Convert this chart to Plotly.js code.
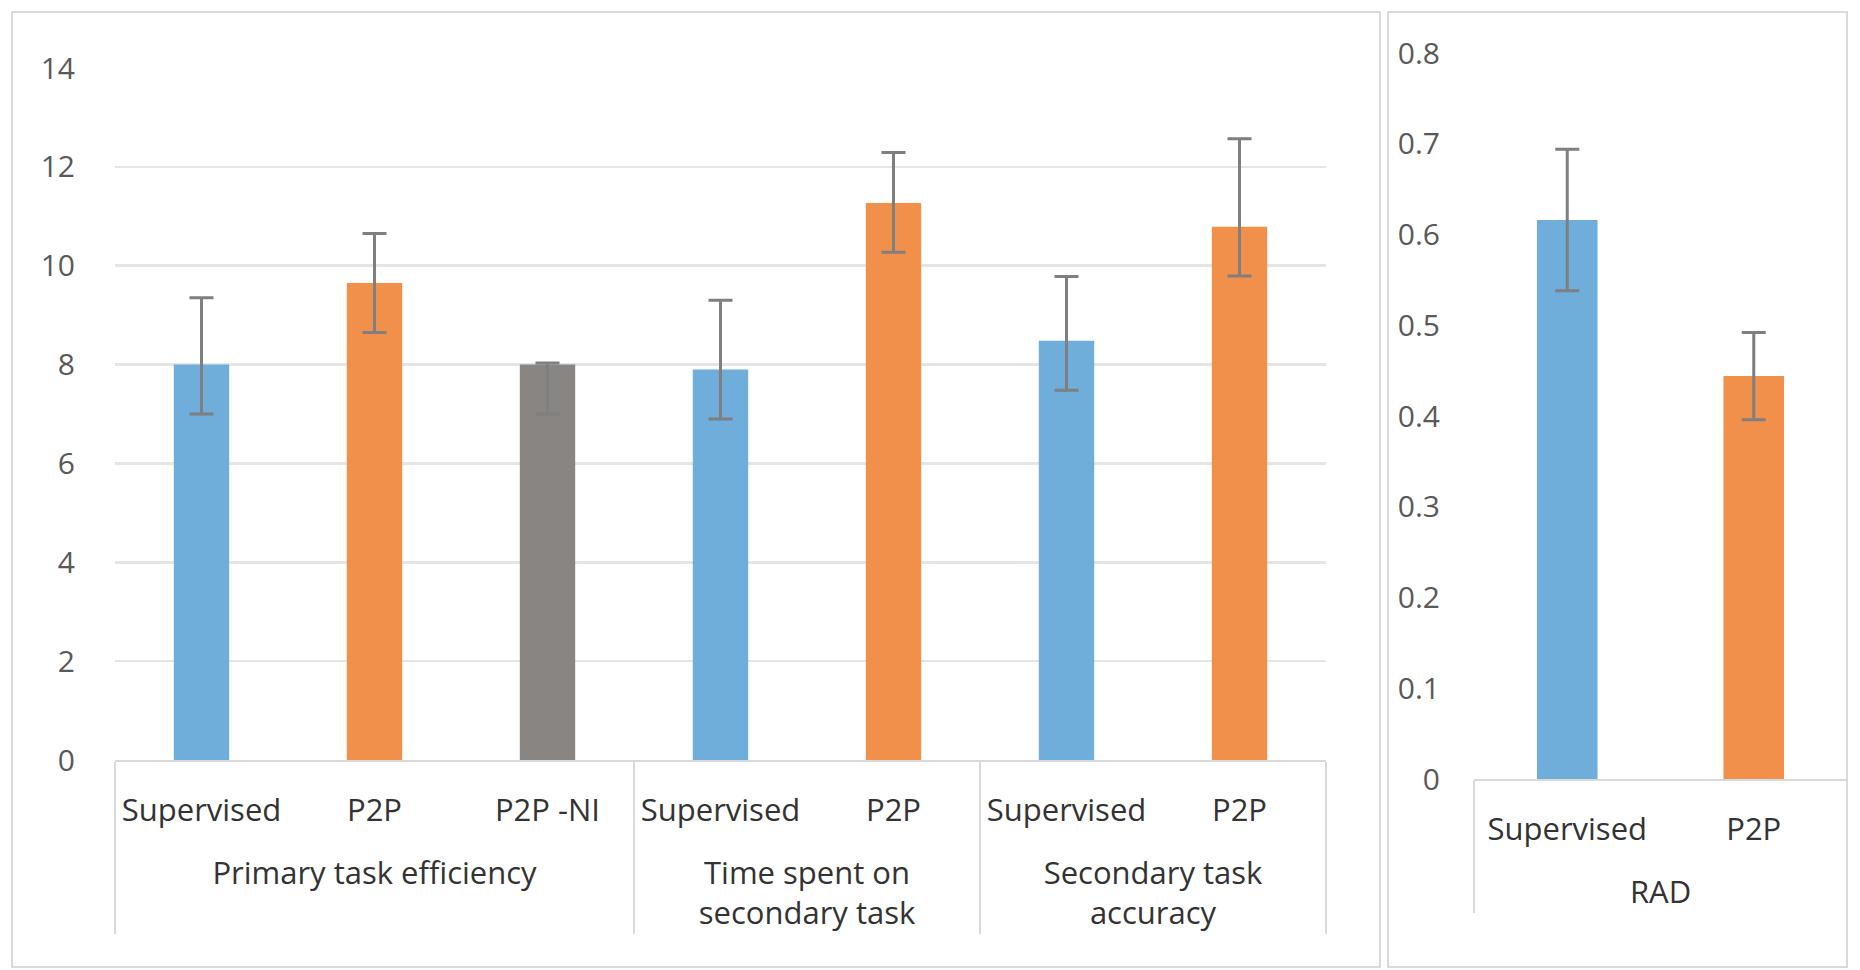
<!DOCTYPE html>
<html>
<head>
<meta charset="utf-8">
<script src="https://cdn.plot.ly/plotly-3.0.1.min.js"></script>
<style>
  html, body { margin: 0; padding: 0; background: #fff; }
  #chart { width: 1860px; height: 970px; }
</style>
</head>
<body>
<div id="chart"></div>
<script>
// ---- Data ----
// group labels start with a blank line so that they sit one line below the condition labels
const leftGroups = [
  '<br>Primary task efficiency', '<br>Primary task efficiency', '<br>Primary task efficiency',
  '<br>Time spent on<br>secondary task', '<br>Time spent on<br>secondary task',
  '<br>Secondary task<br>accuracy', '<br>Secondary task<br>accuracy'
];
const leftConditions = ['Supervised', 'P2P', 'P2P -NI', 'Supervised', 'P2P', 'Supervised', 'P2P'];
const leftMeans     = [8.0, 9.65, 8.0, 7.9, 11.27, 8.48, 10.79];
const leftErrPlus   = [1.35, 1.0, 0.03, 1.4, 1.02, 1.3, 1.78];
const leftErrMinus  = [1.0, 1.0, 1.0, 1.0, 1.0, 1.0, 1.0];
const leftTicks     = [0, 2, 4, 6, 8, 10, 12, 14];

const rightGroups     = ['<br>RAD', '<br>RAD'];
const rightConditions = ['Supervised', 'P2P'];
const rightMeans      = [0.616, 0.444];
const rightErrPlus    = [0.078, 0.048];
const rightErrMinus   = [0.078, 0.048];
const rightTicks      = [0, 0.1, 0.2, 0.3, 0.4, 0.5, 0.6, 0.7, 0.8];

const conditionColors = { 'Supervised': '#6FADDA', 'P2P': '#F0904B', 'P2P -NI': '#898583' };

// ---- Layout constants (pixels) ----
const W = 1860, H = 970;
const px = v => v / W;
const py = v => 1 - v / H;

const FONT = 'Open Sans, Roboto, sans-serif';
const errStyle = { type: 'data', symmetric: false, color: '#7F7F7F', thickness: 3, width: 12 };

const traces = [
  {
    type: 'bar',
    x: [leftGroups, leftConditions],
    y: leftMeans,
    width: 0.32,
    marker: { color: leftConditions.map(c => conditionColors[c]), line: { width: 0 } },
    error_y: Object.assign({}, errStyle, { array: leftErrPlus, arrayminus: leftErrMinus }),
    xaxis: 'x', yaxis: 'y', hoverinfo: 'y'
  },
  {
    type: 'bar',
    x: [rightGroups, rightConditions],
    y: rightMeans,
    width: 0.325,
    marker: { color: rightConditions.map(c => conditionColors[c]), line: { width: 0 } },
    error_y: Object.assign({}, errStyle, { array: rightErrPlus, arrayminus: rightErrMinus }),
    xaxis: 'x2', yaxis: 'y2', hoverinfo: 'y'
  }
];

const xCommon = {
  type: 'multicategory',
  showline: true, linecolor: '#D9D9D9', linewidth: 2,
  showdividers: true, dividercolor: '#D9D9D9', dividerwidth: 2,
  ticks: '', showgrid: false, zeroline: false,
  ticklabelstandoff: 22,
  tickfont: { family: FONT, size: 31, color: '#333333' },
  fixedrange: true
};

const layout = {
  width: W, height: H,
  margin: { l: 0, r: 0, t: 0, b: 0 },
  paper_bgcolor: '#FFFFFF', plot_bgcolor: 'rgba(0,0,0,0)',
  showlegend: false,
  font: { family: FONT, color: '#595959' },
  xaxis: Object.assign({}, xCommon, { domain: [px(115), px(1326)], anchor: 'y' }),
  yaxis: {
    domain: [py(760), py(68)], anchor: 'x',
    range: [0, 14], tickvals: leftTicks,
    showgrid: true, gridcolor: '#E5E5E5', gridwidth: 2.5,
    zeroline: false, showline: false, ticks: '',
    ticklabelstandoff: 39,
    tickfont: { family: FONT, size: 30, color: '#595959' },
    fixedrange: true
  },
  xaxis2: Object.assign({}, xCommon, { domain: [px(1474), px(1847)], anchor: 'y2' }),
  yaxis2: {
    domain: [py(779), py(53)], anchor: 'x2',
    range: [0, 0.8], tickvals: rightTicks,
    showgrid: false, zeroline: false, showline: false, ticks: '',
    ticklabelstandoff: 33,
    tickfont: { family: FONT, size: 30, color: '#595959' },
    fixedrange: true
  },
  shapes: [
    { type: 'rect', xref: 'paper', yref: 'paper', x0: px(12), x1: px(1380), y0: py(967), y1: py(12),
      line: { color: '#D9D9D9', width: 2 }, layer: 'below' },
    { type: 'rect', xref: 'paper', yref: 'paper', x0: px(1388), x1: px(1847), y0: py(967), y1: py(12),
      line: { color: '#D9D9D9', width: 2 }, layer: 'below' }
  ]
};

Plotly.newPlot('chart', traces, layout, { displayModeBar: false, staticPlot: true });
</script>
</body>
</html>
